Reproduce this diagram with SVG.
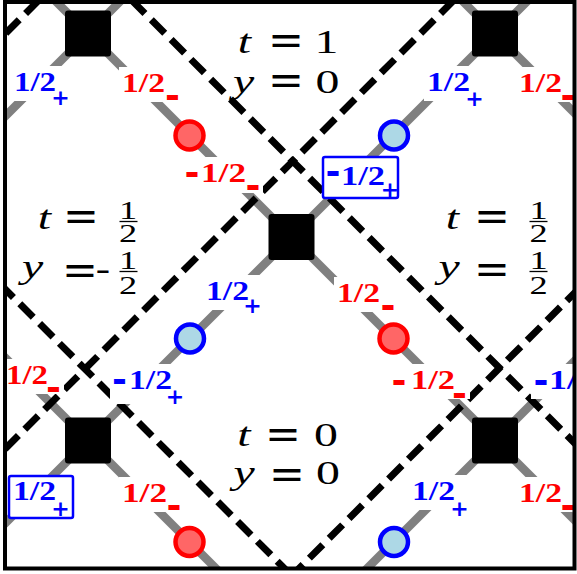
<svg xmlns="http://www.w3.org/2000/svg" width="577" height="574" viewBox="0 0 577 574">
<defs>
<clipPath id="clip"><rect x="5" y="2" width="569.5" height="566.5"/></clipPath>
<style>
.g{stroke:#808080;stroke-width:8.5;fill:none}
.d{stroke:#000;stroke-width:7;stroke-dasharray:19 9;fill:none}
.sq{fill:#000}
.rc{fill:#ff6666;stroke:#ff0000;stroke-width:4.5}
.bc{fill:#add8e6;stroke:#0000ff;stroke-width:4.5}
.bg{fill:#fff}
.box{fill:#fff;stroke:#0000ff;stroke-width:2.5}
.n{font-family:"Liberation Serif",serif;font-weight:bold;font-size:27px}
.h{font-family:"DejaVu Sans",sans-serif;font-weight:bold;font-size:36px;text-anchor:middle}
.p{font-family:"DejaVu Sans",sans-serif;font-weight:bold;font-size:22px;text-anchor:middle}
.b{fill:#0000ff}.r{fill:#ff0000}
.m{font-family:"Liberation Serif",serif;font-size:33px;text-anchor:middle;fill:#000}
.i{font-style:italic}
.eq{font-family:"DejaVu Serif",serif;font-size:33px;text-anchor:middle;fill:#000}
.f{font-family:"Liberation Serif",serif;font-size:26px;text-anchor:middle;fill:#000}
.fb{stroke:#000;stroke-width:1.3}
</style>
</defs>
<g clip-path="url(#clip)">
<g id="connectors">
<line class="g" x1="0" y1="-54.5" x2="600" y2="545.5"/>
<line class="g" x1="461.5" y1="0" x2="600" y2="138.5"/>
<line class="g" x1="0" y1="352.5" x2="230" y2="582.5"/>
<line class="g" x1="121.5" y1="0" x2="0" y2="121.5"/>
<line class="g" x1="528.5" y1="0" x2="0" y2="528.5"/>
<line class="g" x1="600" y1="335.5" x2="355.5" y2="580"/>
<line class="d" x1="131.5" y1="0" x2="600" y2="468.5"/>
<line class="d" x1="454" y1="0" x2="0" y2="454"/>
<line class="d" x1="39" y1="0" x2="0" y2="39"/>
<line class="d" x1="0" y1="284" x2="300" y2="584"/>
<line class="d" x1="600" y1="267.5" x2="287" y2="580.5"/>
</g>
<g id="squares">
<rect id="sq-tl" class="sq" x="65" y="10.5" width="46" height="46" rx="3"/>
<rect id="sq-tr" class="sq" x="472" y="10.5" width="46" height="46" rx="3"/>
<rect id="sq-c" class="sq" x="268.5" y="214" width="46" height="46" rx="3"/>
<rect id="sq-bl" class="sq" x="65" y="417.5" width="46" height="46" rx="3"/>
<rect id="sq-br" class="sq" x="472" y="417.5" width="46" height="46" rx="3"/>
</g>
<g id="circles">
<circle id="c1" class="rc" cx="189.5" cy="135.5" r="14"/>
<circle id="c2" class="bc" cx="394" cy="135.5" r="14"/>
<circle id="c3" class="bc" cx="190" cy="338.5" r="14"/>
<circle id="c4" class="rc" cx="393.5" cy="338.5" r="14"/>
<circle id="c5" class="rc" cx="189.5" cy="542" r="14"/>
<circle id="c6" class="bc" cx="394" cy="542" r="14"/>
</g>
<g id="labels">
<g id="l1"><rect class="bg" x="11" y="66" width="61" height="35"/><text class="n b" x="14" y="91" textLength="42" lengthAdjust="spacingAndGlyphs">1/2</text><text class="p b" x="60.5" y="104.5">+</text></g>
<g id="l2"><rect class="bg" x="119" y="67" width="63" height="35"/><text class="n r" x="122" y="92" textLength="43" lengthAdjust="spacingAndGlyphs">1/2</text><text class="h r" x="172.5" y="107.8">-</text></g>
<g id="l3"><rect class="bg" x="183" y="157" width="80" height="36"/><text class="h r" x="192" y="184.8">-</text><text class="n r" x="201" y="182" textLength="45" lengthAdjust="spacingAndGlyphs">1/2</text><text class="h r" x="253" y="198.3">-</text></g>
<g id="l4"><rect class="box" x="323" y="157" width="75" height="41" rx="2"/><text class="h b" x="333" y="183.8">-</text><text class="n b" x="341" y="185" textLength="44" lengthAdjust="spacingAndGlyphs">1/2</text><text class="p b" x="390" y="196.5">+</text></g>
<g id="l5"><rect class="bg" x="203" y="275" width="61" height="35"/><text class="n b" x="206" y="300" textLength="43" lengthAdjust="spacingAndGlyphs">1/2</text><text class="p b" x="252.5" y="312.5">+</text></g>
<g id="l6"><rect class="bg" x="334" y="277" width="64" height="35"/><text class="n r" x="337" y="302" textLength="43" lengthAdjust="spacingAndGlyphs">1/2</text><text class="h r" x="388" y="317.8">-</text></g>
<g id="l7"><rect class="bg" x="5" y="359" width="59" height="35"/><text class="n r" x="6" y="384" textLength="42" lengthAdjust="spacingAndGlyphs">1/2</text><text class="h r" x="53.5" y="399.8">-</text></g>
<g id="l8"><rect class="bg" x="110" y="364" width="77" height="40"/><text class="h b" x="119.5" y="391.8">-</text><text class="n b" x="129" y="389" textLength="43" lengthAdjust="spacingAndGlyphs">1/2</text><text class="p b" x="175" y="404">+</text></g>
<g id="l9"><rect class="bg" x="389" y="364" width="81" height="35"/><text class="h r" x="399" y="392.8">-</text><text class="n r" x="411" y="389" textLength="44" lengthAdjust="spacingAndGlyphs">1/2</text><text class="h r" x="459.5" y="405.8">-</text></g>
<g id="l10"><rect class="bg" x="531" y="364" width="44" height="35"/><text class="h b" x="541" y="392.8">-</text><text class="n b" x="549" y="389" textLength="28" lengthAdjust="spacingAndGlyphs">1/</text></g>
<g id="l11"><rect class="box" x="9" y="476" width="64" height="42" rx="2"/><text class="n b" x="13" y="500" textLength="43" lengthAdjust="spacingAndGlyphs">1/2</text><text class="p b" x="60.5" y="516">+</text></g>
<g id="l12"><rect class="bg" x="119" y="477" width="63" height="35"/><text class="n r" x="122" y="502" textLength="45" lengthAdjust="spacingAndGlyphs">1/2</text><text class="h r" x="174" y="517.8">-</text></g>
<g id="l13"><rect class="bg" x="409" y="475" width="62" height="35"/><text class="n b" x="412" y="500" textLength="43" lengthAdjust="spacingAndGlyphs">1/2</text><text class="p b" x="459.5" y="515.5">+</text></g>
<g id="l14"><rect class="bg" x="516" y="477" width="60" height="35"/><text class="n r" x="519" y="502" textLength="43" lengthAdjust="spacingAndGlyphs">1/2</text><text class="h r" x="568" y="517.8">-</text></g>
<g id="l15"><rect class="bg" x="424" y="66" width="62" height="35"/><text class="n b" x="427" y="91" textLength="43" lengthAdjust="spacingAndGlyphs">1/2</text><text class="p b" x="474.5" y="105.5">+</text></g>
<g id="l16"><rect class="bg" x="516" y="67" width="60" height="35"/><text class="n r" x="519" y="92" textLength="43" lengthAdjust="spacingAndGlyphs">1/2</text><text class="h r" x="568" y="107.8">-</text></g>
</g>
</g>
<g id="region-top">
<text class="m i" transform="translate(244.5 53) scale(1.45 1)">t</text>
<text class="eq" transform="translate(286 54.9) scale(1.3 1.3)">=</text>
<text class="m" transform="translate(326.5 53) scale(1.45 1)">1</text>
<text class="m i" transform="translate(243.5 93) scale(1.45 1)">y</text>
<text class="eq" transform="translate(286 95.4) scale(1.3 1.3)">=</text>
<text class="m" transform="translate(327.5 93) scale(1.45 1)">0</text>
</g>
<g id="region-bottom">
<text class="m i" transform="translate(244 446) scale(1.45 1)">t</text>
<text class="eq" transform="translate(283 449.4) scale(1.3 1.3)">=</text>
<text class="m" transform="translate(326 446) scale(1.45 1)">0</text>
<text class="m i" transform="translate(244 484) scale(1.45 1)">y</text>
<text class="eq" transform="translate(287 488.9) scale(1.3 1.3)">=</text>
<text class="m" transform="translate(328 484) scale(1.45 1)">0</text>
</g>
<g id="region-left">
<text class="m i" transform="translate(44.5 229) scale(1.45 1)">t</text>
<text class="eq" transform="translate(81 230.9) scale(1.3 1.3)">=</text>
<text class="f" transform="translate(128 219) scale(1.4 1)">1</text>
<line class="fb" x1="119.5" y1="221.5" x2="137.5" y2="221.5"/>
<text class="f" transform="translate(128 241.5) scale(1.4 1)">2</text>
<text class="m i" transform="translate(32.5 278) scale(1.45 1)">y</text>
<text class="eq" transform="translate(80 284.9) scale(1.3 1.3)">=</text>
<text class="m" transform="translate(103 280) scale(1.3 1)">-</text>
<text class="f" transform="translate(128 269) scale(1.4 1)">1</text>
<line class="fb" x1="119.5" y1="271.5" x2="137.5" y2="271.5"/>
<text class="f" transform="translate(128 293.5) scale(1.4 1)">2</text>
</g>
<g id="region-right">
<text class="m i" transform="translate(452.5 229) scale(1.45 1)">t</text>
<text class="eq" transform="translate(492 230.9) scale(1.3 1.3)">=</text>
<text class="f" transform="translate(538.5 219) scale(1.4 1)">1</text>
<line class="fb" x1="529.5" y1="221.5" x2="547.5" y2="221.5"/>
<text class="f" transform="translate(538.5 241.5) scale(1.4 1)">2</text>
<text class="m i" transform="translate(449 278) scale(1.45 1)">y</text>
<text class="eq" transform="translate(492 283.9) scale(1.3 1.3)">=</text>
<text class="f" transform="translate(538.5 269) scale(1.4 1)">1</text>
<line class="fb" x1="529.5" y1="271.5" x2="547.5" y2="271.5"/>
<text class="f" transform="translate(538.5 293.5) scale(1.4 1)">2</text>
</g>
<rect id="frame" x="5" y="2" width="569.5" height="566.5" fill="none" stroke="#000" stroke-width="4"/>
</svg>
